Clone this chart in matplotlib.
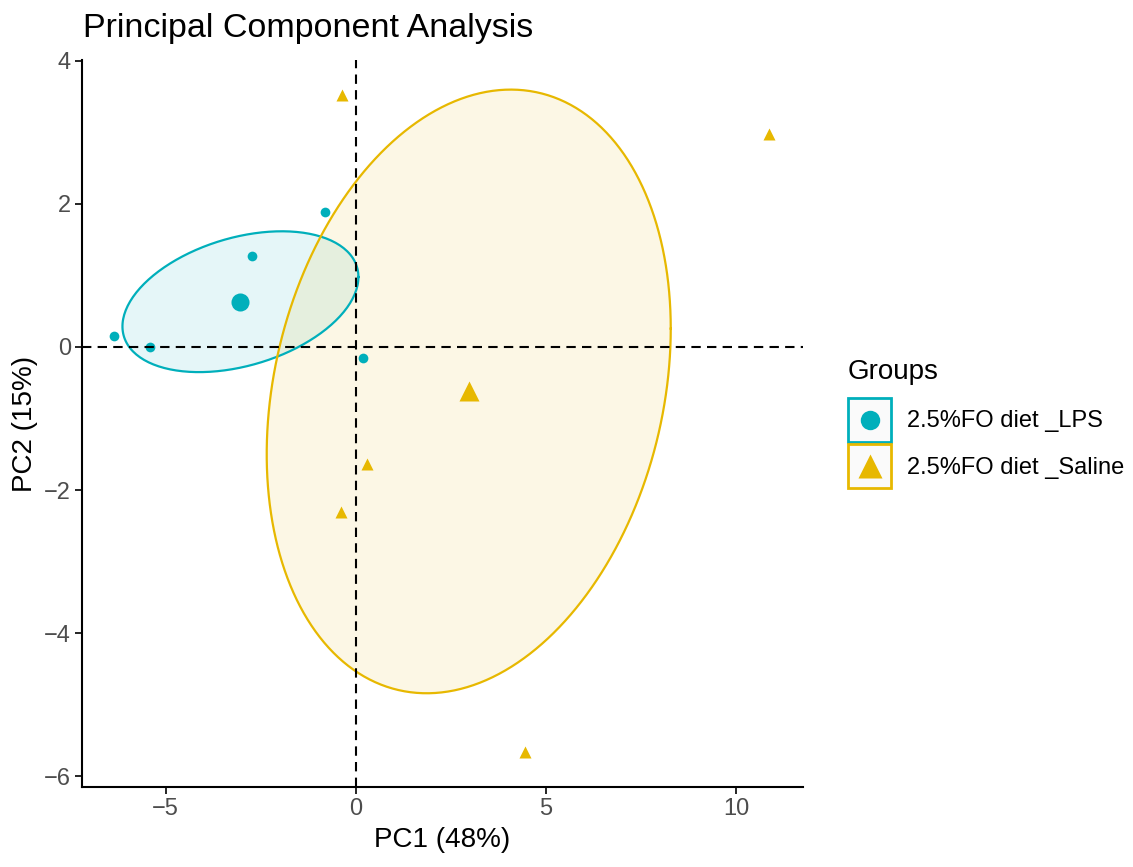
import numpy as np
import matplotlib.pyplot as plt
from matplotlib.patches import Rectangle
from matplotlib.lines import Line2D

plt.rcParams['font.family'] = ['Liberation Sans', 'DejaVu Sans']

# PCA scores per group
lps_pc1 = [-6.37, -5.42, -2.74, -0.82, 0.18]
lps_pc2 = [0.15, 0.00, 1.27, 1.89, -0.15]
sal_pc1 = [-0.37, 10.87, 0.29, -0.39, 4.45]
sal_pc2 = [3.52, 2.98, -1.64, -2.31, -5.66]

groups = ["2.5%FO diet _LPS", "2.5%FO diet _Saline"]
colors = ["#00AFBB", "#E7B800"]
markers = ["o", "^"]
xticks = [-5, 0, 5, 10]
yticks = [-6, -4, -2, 0, 2, 4]


def conf_ellipse(x, y, level=0.95, npts=200):
    # confidence ellipse of the group mean
    data = np.column_stack([x, y])
    n = len(data)
    c = data.mean(axis=0)
    cov = np.cov(data, rowvar=False) / n
    q = -2 * np.log(1 - level)  # chi-square quantile, 2 df
    L = np.linalg.cholesky(cov * q)
    t = np.linspace(0, 2 * np.pi, npts)
    circ = np.vstack([np.cos(t), np.sin(t)])
    pts = c[:, None] + L @ circ
    return pts[0], pts[1]


class GroupKey:
    def __init__(self, color, marker):
        self.color = color
        self.marker = marker


class GroupKeyHandler:
    # framed box with the group marker centred inside
    def legend_artist(self, legend, orig_handle, fontsize, handlebox):
        x0, y0 = handlebox.xdescent, handlebox.ydescent
        w, h = handlebox.width, handlebox.height
        tr = handlebox.get_transform()
        box = Rectangle((-x0, -y0), w, h, facecolor="#fafafa",
                        edgecolor=orig_handle.color, lw=2.0, transform=tr)
        ms = 14 if orig_handle.marker == "o" else 17
        pt = Line2D([-x0 + w / 2], [-y0 + h / 2], marker=orig_handle.marker,
                    color=orig_handle.color, ms=ms, mec="none", ls="none",
                    transform=tr)
        handlebox.add_artist(box)
        handlebox.add_artist(pt)
        return box


fig = plt.figure(figsize=(11.33, 8.67), dpi=100)
ax = fig.add_axes([0.0724, 0.0923, 0.6363, 0.8385])

data = [(lps_pc1, lps_pc2), (sal_pc1, sal_pc2)]
keys = []
for (px, py), col, mk in zip(data, colors, markers):
    ex, ey = conf_ellipse(px, py)
    ax.fill(ex, ey, color=col, alpha=0.1, lw=0)
    ax.plot(ex, ey, color=col, lw=1.6)
    ax.plot(px, py, mk, color=col, ms=7 if mk == "o" else 8, mec="none")
    ax.plot(np.mean(px), np.mean(py), mk, color=col,
            ms=13 if mk == "o" else 15, mec="none")
    keys.append(GroupKey(col, mk))

ax.axhline(0, color="black", ls=(0, (4.5, 3)), lw=1.5)
ax.axvline(0, color="black", ls=(0, (4.5, 3)), lw=1.5)

ax.set_xlim(-7.2, 11.76)
ax.set_ylim(-6.15, 4.01)
ax.set_xticks(xticks)
ax.set_yticks(yticks)
ax.set_xticklabels([str(v).replace("-", "\u2212") for v in xticks])
ax.set_yticklabels([str(v).replace("-", "\u2212") for v in yticks])
ax.tick_params(labelsize=17, labelcolor="#4D4D4D", length=5, width=1.2, pad=3)
for s in ["top", "right"]:
    ax.spines[s].set_visible(False)
for s in ["left", "bottom"]:
    ax.spines[s].set_linewidth(1.5)

ax.set_xlabel("PC1 (48%)", fontsize=20, labelpad=5)
ax.set_ylabel("PC2 (15%)", fontsize=20, labelpad=4)
fig.text(0.073, 0.9573, "Principal Component Analysis", fontsize=24.5,
         ha="left", va="baseline")

# legend: title as plain text, keys below it
fig.text(0.7485, 0.5629, "Groups", fontsize=20, ha="left", va="baseline")
fig.legend(keys, groups, handler_map={GroupKey: GroupKeyHandler()},
           loc="upper left", bbox_to_anchor=(0.7485, 0.541),
           fontsize=17, frameon=False, borderpad=0, borderaxespad=0,
           handlelength=1.83, handleheight=2.49, handletextpad=0.65,
           labelspacing=0.1)

fig.savefig("out.png", dpi=100)
